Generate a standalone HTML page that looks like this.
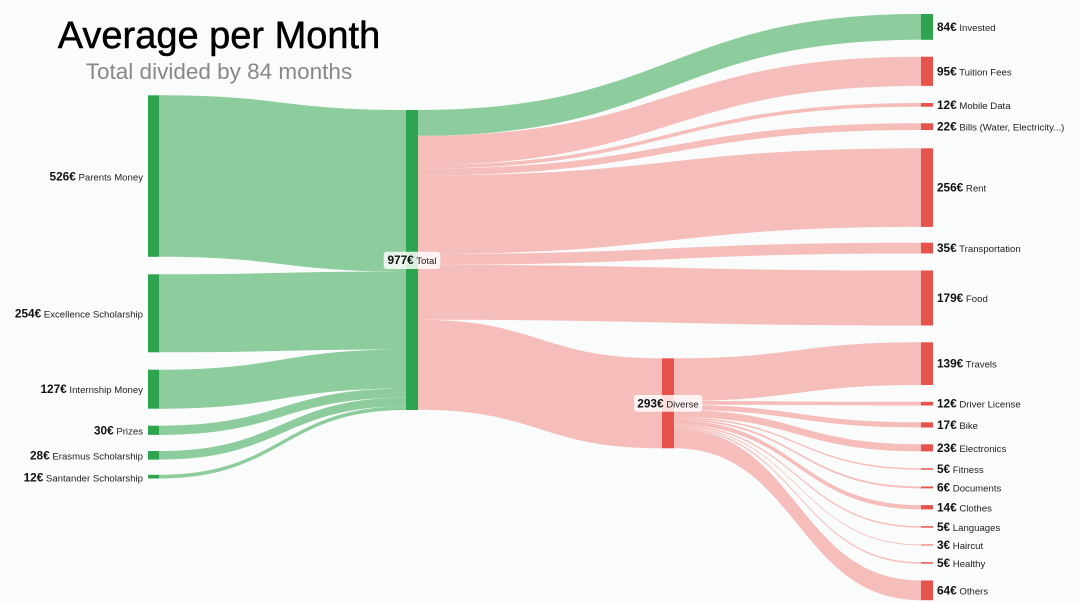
<!DOCTYPE html>
<html><head><meta charset="utf-8"><style>
html,body{margin:0;padding:0;background:#fafbfb;}
svg{display:block;font-family:"Liberation Sans",Arial,sans-serif;}
.v{font-weight:700;font-size:11.8px;fill:#111;}
.n{font-size:9.6px;fill:#222;}
.lg{fill:#8dcd9d;}
.lr{fill:#f5bebb;}
.ng{fill:#2ea44f;}
.nr{fill:#e5534b;}
</style></head><body>
<svg width="1080" height="602" viewBox="0 0 1080 602" xmlns="http://www.w3.org/2000/svg">
<rect width="1080" height="602" fill="#fafbfb"/>
<text x="219" y="48" text-anchor="middle" font-size="38" fill="#000" stroke="#000" stroke-width="0.5">Average per Month</text>
<text x="219" y="79" text-anchor="middle" font-size="22.5" fill="#888">Total divided by 84 months</text>

<!-- left links -->
<path class="lg" d="M159 95.3C282.5 95.3 282.5 110 406 110L406 271.5C282.5 271.5 282.5 256.8 159 256.8Z"/>
<path class="lg" d="M159 274.3C282.5 274.3 282.5 271.5 406 271.5L406 349.5C282.5 349.5 282.5 352.3 159 352.3Z"/>
<path class="lg" d="M159 369.7C282.5 369.7 282.5 349.5 406 349.5L406 388.5C282.5 388.5 282.5 408.7 159 408.7Z"/>
<path class="lg" d="M159 425.7C282.5 425.7 282.5 388.5 406 388.5L406 397.7C282.5 397.7 282.5 434.9 159 434.9Z"/>
<path class="lg" d="M159 451C282.5 451 282.5 397.7 406 397.7L406 406.3C282.5 406.3 282.5 459.6 159 459.6Z"/>
<path class="lg" d="M159 474.8C282.5 474.8 282.5 406.3 406 406.3L406 410C282.5 410 282.5 478.5 159 478.5Z"/>

<!-- total links -->
<path class="lg" d="M418 110C669.5 110 669.5 14 921 14L921 39.8C669.5 39.8 669.5 135.8 418 135.8Z"/>
<path class="lr" d="M418 135.8C669.5 135.8 669.5 56.7 921 56.7L921 85.9C669.5 85.9 669.5 165 418 165Z"/>
<path class="lr" d="M418 165C669.5 165 669.5 103 921 103L921 106.7C669.5 106.7 669.5 168.7 418 168.7Z"/>
<path class="lr" d="M418 168.7C669.5 168.7 669.5 123.3 921 123.3L921 130.05C669.5 130.05 669.5 175.45 418 175.45Z"/>
<path class="lr" d="M418 175.45C669.5 175.45 669.5 148.3 921 148.3L921 226.9C669.5 226.9 669.5 254.05 418 254.05Z"/>
<path class="lr" d="M418 254.05C669.5 254.05 669.5 242.7 921 242.7L921 253.45C669.5 253.45 669.5 264.8 418 264.8Z"/>
<path class="lr" d="M418 264.8C669.5 264.8 669.5 270.5 921 270.5L921 325.5C669.5 325.5 669.5 319.8 418 319.8Z"/>
<path class="lr" d="M418 319.8C540 319.8 540 358.3 662 358.3L662 448.3C540 448.3 540 409.8 418 409.8Z"/>

<!-- diverse links -->
<path class="lr" d="M674 358.3C797.5 358.3 797.5 342.3 921 342.3L921 385C797.5 385 797.5 401 674 401Z"/>
<path class="lr" d="M674 401C797.5 401 797.5 401.8 921 401.8L921 405.5C797.5 405.5 797.5 404.7 674 404.7Z"/>
<path class="lr" d="M674 404.7C797.5 404.7 797.5 422.3 921 422.3L921 427.5C797.5 427.5 797.5 409.9 674 409.9Z"/>
<path class="lr" d="M674 409.9C797.5 409.9 797.5 444.3 921 444.3L921 451.4C797.5 451.4 797.5 417 674 417Z"/>
<path class="lr" d="M674 417C797.5 417 797.5 468.2 921 468.2L921 469.7C797.5 469.7 797.5 418.5 674 418.5Z"/>
<path class="lr" d="M674 418.5C797.5 418.5 797.5 486.5 921 486.5L921 488.35C797.5 488.35 797.5 420.35 674 420.35Z"/>
<path class="lr" d="M674 420.35C797.5 420.35 797.5 505.1 921 505.1L921 509.4C797.5 509.4 797.5 424.65 674 424.65Z"/>
<path class="lr" d="M674 424.65C797.5 424.65 797.5 526.2 921 526.2L921 527.7C797.5 527.7 797.5 426.15 674 426.15Z"/>
<path class="lr" d="M674 426.15C797.5 426.15 797.5 544.5 921 544.5L921 545.42C797.5 545.42 797.5 427.07 674 427.07Z"/>
<path class="lr" d="M674 427.07C797.5 427.07 797.5 562.2 921 562.2L921 563.7C797.5 563.7 797.5 428.57 674 428.57Z"/>
<path class="lr" d="M674 428.57C797.5 428.57 797.5 580.5 921 580.5L921 600.2C797.5 600.2 797.5 448.3 674 448.3Z"/>

<!-- nodes -->
<rect class="ng" x="148" y="95.3" width="11" height="161.5"/>
<rect class="ng" x="148" y="274.3" width="11" height="78"/>
<rect class="ng" x="148" y="369.7" width="11" height="39"/>
<rect class="ng" x="148" y="425.7" width="11" height="9.2"/>
<rect class="ng" x="148" y="451" width="11" height="8.6"/>
<rect class="ng" x="148" y="474.8" width="11" height="3.7"/>
<rect class="ng" x="406" y="110" width="12" height="300"/>
<rect class="nr" x="662" y="358.3" width="12" height="90"/>
<rect class="ng" x="921" y="14" width="12" height="25.8"/>
<rect class="nr" x="921" y="56.7" width="12" height="29.2"/>
<rect class="nr" x="921" y="103" width="12" height="3.7"/>
<rect class="nr" x="921" y="123.3" width="12" height="6.75"/>
<rect class="nr" x="921" y="148.3" width="12" height="78.6"/>
<rect class="nr" x="921" y="242.7" width="12" height="10.75"/>
<rect class="nr" x="921" y="270.5" width="12" height="55"/>
<rect class="nr" x="921" y="342.3" width="12" height="42.7"/>
<rect class="nr" x="921" y="401.8" width="12" height="3.7"/>
<rect class="nr" x="921" y="422.3" width="12" height="5.2"/>
<rect class="nr" x="921" y="444.3" width="12" height="7.1"/>
<rect class="nr" x="921" y="468.2" width="12" height="1.5"/>
<rect class="nr" x="921" y="486.5" width="12" height="1.85"/>
<rect class="nr" x="921" y="505.1" width="12" height="4.3"/>
<rect class="nr" x="921" y="526.2" width="12" height="1.5"/>
<rect class="nr" x="921" y="544.5" width="12" height="0.92"/>
<rect class="nr" x="921" y="562.2" width="12" height="1.5"/>
<rect class="nr" x="921" y="580.5" width="12" height="19.7"/>

<!-- left labels -->
<text x="143" y="180.5" text-anchor="end"><tspan class="v">526€</tspan><tspan class="n"> Parents Money</tspan></text>
<text x="143" y="317.3" text-anchor="end"><tspan class="v">254€</tspan><tspan class="n"> Excellence Scholarship</tspan></text>
<text x="143" y="393.2" text-anchor="end"><tspan class="v">127€</tspan><tspan class="n"> Internship Money</tspan></text>
<text x="143" y="434.3" text-anchor="end"><tspan class="v">30€</tspan><tspan class="n"> Prizes</tspan></text>
<text x="143" y="459.3" text-anchor="end"><tspan class="v">28€</tspan><tspan class="n"> Erasmus Scholarship</tspan></text>
<text x="143" y="481.3" text-anchor="end"><tspan class="v">12€</tspan><tspan class="n"> Santander Scholarship</tspan></text>

<!-- center labels -->
<rect x="383.7" y="251.7" width="56.6" height="17.3" rx="3" fill="#fff" fill-opacity="0.82"/>
<text x="412" y="264.2" text-anchor="middle"><tspan class="v">977€</tspan><tspan class="n"> Total</tspan></text>
<rect x="634" y="395" width="68.3" height="16.7" rx="3" fill="#fff" fill-opacity="0.82"/>
<text x="668" y="407.4" text-anchor="middle"><tspan class="v">293€</tspan><tspan class="n"> Diverse</tspan></text>

<!-- right labels -->
<text x="937" y="31"><tspan class="v">84€</tspan><tspan class="n"> Invested</tspan></text>
<text x="937" y="75.3"><tspan class="v">95€</tspan><tspan class="n"> Tuition Fees</tspan></text>
<text x="937" y="108.9"><tspan class="v">12€</tspan><tspan class="n"> Mobile Data</tspan></text>
<text x="937" y="130.7"><tspan class="v">22€</tspan><tspan class="n"> Bills (Water, Electricity...)</tspan></text>
<text x="937" y="191.6"><tspan class="v">256€</tspan><tspan class="n"> Rent</tspan></text>
<text x="937" y="252.1"><tspan class="v">35€</tspan><tspan class="n"> Transportation</tspan></text>
<text x="937" y="302"><tspan class="v">179€</tspan><tspan class="n"> Food</tspan></text>
<text x="937" y="367.7"><tspan class="v">139€</tspan><tspan class="n"> Travels</tspan></text>
<text x="937" y="407.7"><tspan class="v">12€</tspan><tspan class="n"> Driver License</tspan></text>
<text x="937" y="428.9"><tspan class="v">17€</tspan><tspan class="n"> Bike</tspan></text>
<text x="937" y="451.9"><tspan class="v">23€</tspan><tspan class="n"> Electronics</tspan></text>
<text x="937" y="473"><tspan class="v">5€</tspan><tspan class="n"> Fitness</tspan></text>
<text x="937" y="491.4"><tspan class="v">6€</tspan><tspan class="n"> Documents</tspan></text>
<text x="937" y="511.3"><tspan class="v">14€</tspan><tspan class="n"> Clothes</tspan></text>
<text x="937" y="531"><tspan class="v">5€</tspan><tspan class="n"> Languages</tspan></text>
<text x="937" y="549"><tspan class="v">3€</tspan><tspan class="n"> Haircut</tspan></text>
<text x="937" y="567"><tspan class="v">5€</tspan><tspan class="n"> Healthy</tspan></text>
<text x="937" y="594.4"><tspan class="v">64€</tspan><tspan class="n"> Others</tspan></text>
</svg>
</body></html>
